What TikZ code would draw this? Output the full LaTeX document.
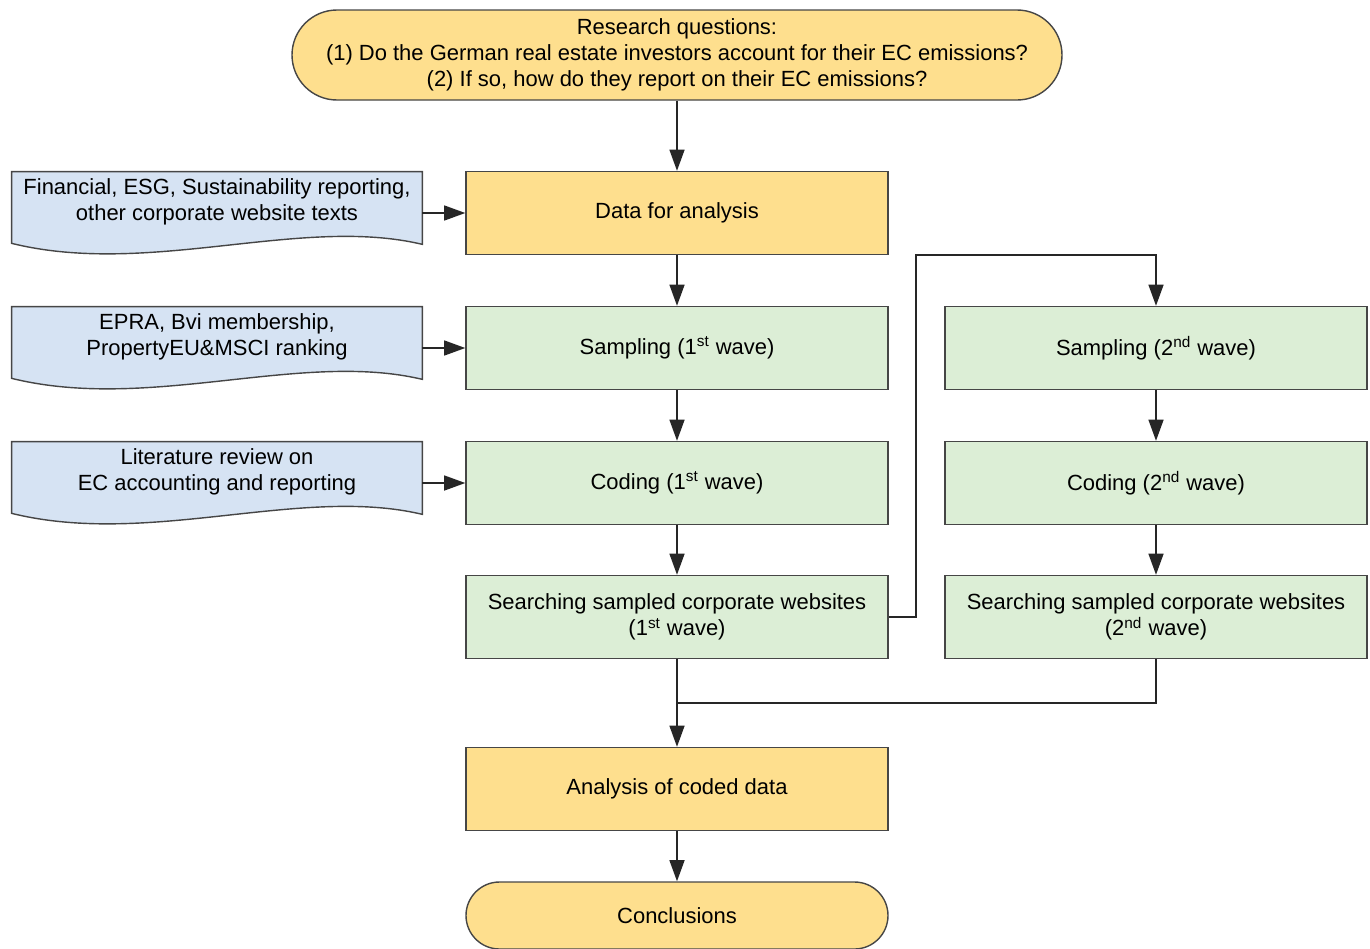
\documentclass[tikz,border=0pt]{standalone}
\usepackage{fontspec}
\setmainfont{Liberation Sans}
\usepackage{tikz}
\usetikzlibrary{shapes, arrows.meta, positioning, backgrounds, calc}
\definecolor{orangefill}{RGB}{254,223,142}
\definecolor{greenfill}{RGB}{220,238,214}
\definecolor{bluefill}{RGB}{214,227,243}
\definecolor{edgegray}{RGB}{70,70,70}
\tikzstyle{terminal} = [draw=edgegray, fill=orangefill, thick, rectangle, rounded corners=0.9cm, minimum width=15.4cm, minimum height=1.8cm, align=center]
\tikzstyle{mainstep} = [draw=edgegray, fill=orangefill, thick, rectangle, minimum width=8.44cm, minimum height=1.66cm, align=center]
\tikzstyle{wavestep} = [mainstep, fill=greenfill]
\tikzstyle{docbox} = [rectangle, minimum width=8.2cm, minimum height=1.2cm, align=center, inner sep=0pt]
\tikzstyle{docline} = [draw=edgegray, fill=bluefill, thick]
\tikzstyle{flow} = [draw=black!85, line width=0.9pt, -{Triangle[length=12pt,width=8.5pt]}]
\tikzstyle{joinline} = [draw=black!85, line width=0.9pt]
\newcommand{\docshape}[1]{%
	\begin{pgfonlayer}{background}
		\path[docline] (#1.north west) -- (#1.north east) -- ($(#1.south east)+(0,-0.24)$)
			.. controls ($(#1.south east)+(-2.44,0.34)$) and ($(#1.south west)+(2.76,-0.9)$) .. ($(#1.south west)+(0,-0.22)$) -- cycle;
	\end{pgfonlayer}}

\begin{document}
\begin{tikzpicture}[font=\fontsize{12.5}{14.8}\selectfont]
	\useasboundingbox (0,0) rectangle (27.4,-18.96);
	\node[terminal] (rq) at (13.54,-1.10) {Research questions:\\(1) Do the German real estate investors account for their EC emissions?\\(2) If so, how do they report on their EC emissions?};
	\node[mainstep] (data) at (13.54,-4.26) {Data for analysis};
	\node[wavestep] (samp1) at (13.54,-6.96) {Sampling (1\textsuperscript{st} wave)};
	\node[wavestep] (code1) at (13.54,-9.66) {Coding (1\textsuperscript{st} wave)};
	\node[wavestep] (search1) at (13.54,-12.34) {Searching sampled corporate websites\\(1\textsuperscript{st} wave)};
	\node[wavestep] (samp2) at (23.12,-6.96) {Sampling (2\textsuperscript{nd} wave)};
	\node[wavestep] (code2) at (23.12,-9.66) {Coding (2\textsuperscript{nd} wave)};
	\node[wavestep] (search2) at (23.12,-12.34) {Searching sampled corporate websites\\(2\textsuperscript{nd} wave)};
	\node[mainstep] (analysis) at (13.54,-15.78) {Analysis of coded data};
	\node[mainstep, minimum height=1.34cm, rounded corners=0.67cm] (concl) at (13.54,-18.31) {Conclusions};
	\node[docbox] (reports) at (4.34,-4.04) {Financial, ESG, Sustainability reporting,\\other corporate website texts};
	\node[docbox] (members) at (4.34,-6.74) {EPRA, Bvi membership,\\PropertyEU\&MSCI ranking};
	\node[docbox] (litrev) at (4.34,-9.44) {Literature review on\\EC accounting and reporting};
	\docshape{reports}
	\docshape{members}
	\docshape{litrev}
	\coordinate (turn) at (18.32,-5.10);
	\coordinate (join) at (13.54,-14.06);
	\draw[flow] (rq) -- (data);
	\draw[flow] (data) -- (samp1);
	\draw[flow] (samp1) -- (code1);
	\draw[flow] (code1) -- (search1);
	\draw[flow] (search1) -- (analysis);
	\draw[flow] (analysis) -- (concl);
	\draw[flow] (samp2) -- (code2);
	\draw[flow] (code2) -- (search2);
	\draw[flow] (search1.east) -| (turn) -| (samp2.north);
	\draw[joinline] (search2.south) |- (join);
	\draw[flow] (reports.east |- data.west) -- (data.west);
	\draw[flow] (members.east |- samp1.west) -- (samp1.west);
	\draw[flow] (litrev.east |- code1.west) -- (code1.west);
\end{tikzpicture}
\end{document}
